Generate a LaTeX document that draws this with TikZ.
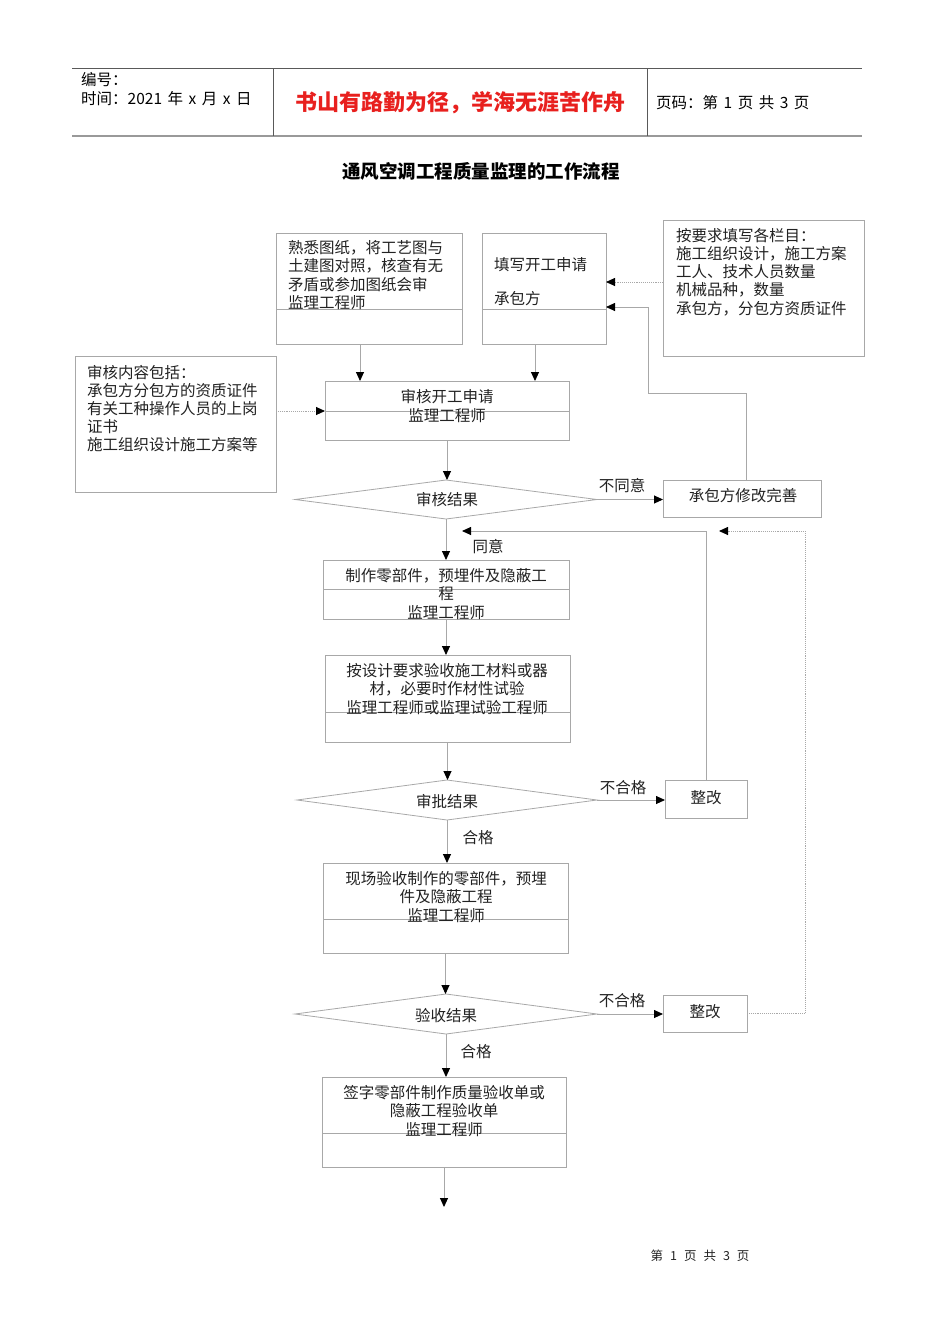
\documentclass[tikz,border=0pt]{standalone}
\usepackage{fontspec}
\setmainfont{Noto Sans CJK SC}
\usetikzlibrary{arrows.meta,shapes.geometric}
\definecolor{ln}{HTML}{A8A8A8}
\definecolor{tx}{HTML}{222222}
\definecolor{redt}{HTML}{E8201E}
\newcommand{\hs}{\hspace{5.5pt}}
\tikzset{
 box/.style={draw=ln, line width=0.8pt, rectangle, inner sep=0pt, outer sep=0pt},
 dia/.style={draw=ln, line width=0.8pt, diamond, inner sep=0pt, outer sep=0pt},
 conn/.style={draw=ln, line width=0.9pt},
 arr/.style={conn, -{Triangle[length=9pt,width=8pt,color=black]}},
 dotarr/.style={arr, densely dotted},
 txt/.style={inner sep=0pt, text=tx, font=\fontsize{15.5pt}{18.2pt}\selectfont},
 hdr/.style={inner sep=0pt, text=black, font=\fontsize{15.5pt}{19pt}\selectfont},
}
\begin{document}
\begin{tikzpicture}[x=1pt,y=-1pt]
\fill[white] (0,0) rectangle (950,1344);
\useasboundingbox (0,0) rectangle (950,1344);
% header
\draw[draw=gray!70!black, line width=0.8pt] (72,68) -- (862,68);
\draw[draw=gray!80, line width=2pt] (72,136) -- (862,136);
\draw[draw=gray!70!black, line width=0.8pt] (273,68) -- (273,136) (647,68) -- (647,136);
\node[hdr, anchor=west] (h1) at (81,80) {编号：};
\node[hdr, anchor=west] (h2) at (81,99) {时间：2021\hs 年\hs x\hs 月\hs x\hs 日};
\node[inner sep=0pt, text=redt, font=\fontsize{22pt}{24pt}\selectfont\bfseries] (h3) at (460,103) {书山有路勤为径，学海无涯苦作舟};
\node[hdr, anchor=west] (h4) at (656,103) {页码：第\hs 1\hs 页\hs 共\hs 3\hs 页};
% title
\node[inner sep=0pt, font=\fontsize{18.5pt}{20pt}\selectfont\bfseries] (title) at (481,171) {通风空调工程质量监理的工作流程};
% boxes
\node[box, minimum width=186pt, minimum height=111pt] (A) at (369,288.5) {};
\node[box, minimum width=124pt, minimum height=111pt] (B) at (544,288.5) {};
\node[box, minimum width=201pt, minimum height=136pt] (C) at (763.5,288) {};
\node[box, minimum width=244pt, minimum height=59pt] (D) at (447,410.5) {};
\node[box, minimum width=201pt, minimum height=136pt] (E) at (175.5,424) {};
\node[dia, minimum width=302pt, minimum height=39pt] (K1) at (446,499.5) {};
\node[box, minimum width=158pt, minimum height=37pt] (F) at (742,498.5) {};
\node[box, minimum width=246pt, minimum height=59pt] (G) at (446,589.5) {};
\node[box, minimum width=245pt, minimum height=87pt] (H) at (447.5,698.5) {};
\node[dia, minimum width=300pt, minimum height=40pt] (K2) at (447,800) {};
\node[box, minimum width=82pt, minimum height=38pt] (Z1) at (706,799) {};
\node[box, minimum width=245pt, minimum height=90pt] (I) at (445.5,908) {};
\node[dia, minimum width=302pt, minimum height=40pt] (K3) at (446,1014) {};
\node[box, minimum width=84pt, minimum height=37pt] (Z2) at (705,1013.5) {};
\node[box, minimum width=244pt, minimum height=90pt] (J) at (444,1122) {};
% inner divider lines
\draw[conn] (A.west |- 0,309) -- (A.east |- 0,309);
\draw[conn] (B.west |- 0,309) -- (B.east |- 0,309);
\draw[conn] (D.west |- 0,411) -- (D.east |- 0,411);
\draw[conn] (G.west |- 0,589) -- (G.east |- 0,589);
\draw[conn] (H.west |- 0,712) -- (H.east |- 0,712);
\draw[conn] (I.west |- 0,919) -- (I.east |- 0,919);
\draw[conn] (J.west |- 0,1133) -- (J.east |- 0,1133);
% texts
\node[txt, anchor=west, align=left] (tA) at (288,275) {熟悉图纸，将工艺图与\\土建图对照，核查有无\\矛盾或参加图纸会审\\监理工程师};
\node[txt, anchor=west] (tB1) at (494,265) {填写开工申请};
\node[txt, anchor=west] (tB2) at (494,299) {承包方};
\node[txt, anchor=west, align=left] (tC) at (676,272) {按要求填写各栏目：\\施工组织设计，施工方案\\工人、技术人员数量\\机械品种，数量\\承包方，分包方资质证件};
\node[txt, align=center] (tD) at (447,406) {审核开工申请\\监理工程师};
\node[txt, anchor=west, align=left] (tE) at (87,408.5) {审核内容包括：\\承包方分包方的资质证件\\有关工种操作人员的上岗\\证书\\施工组织设计施工方案等};
\node[txt] (tK1) at (447,500) {审核结果};
\node[txt] (tF) at (743,496) {承包方修改完善};
\node[txt, align=center] (tG) at (446,594) {制作零部件，预埋件及隐蔽工\\程\\监理工程师};
\node[txt, align=center] (tH) at (447,689) {按设计要求验收施工材料或器\\材，必要时作材性试验\\监理工程师或监理试验工程师};
\node[txt] (tK2) at (447,802) {审批结果};
\node[txt] (tZ1) at (706,798) {整改};
\node[txt, align=center] (tI) at (446,897) {现场验收制作的零部件，预埋\\件及隐蔽工程\\监理工程师};
\node[txt] (tK3) at (446,1016) {验收结果};
\node[txt] (tZ2) at (705,1012) {整改};
\node[txt, align=center] (tJ) at (444,1111) {签字零部件制作质量验收单或\\隐蔽工程验收单\\监理工程师};
% labels
\node[txt] (l1) at (622,486) {不同意};
\node[txt] (l2) at (488,547) {同意};
\node[txt] (l3) at (623,788) {不合格};
\node[txt] (l4) at (478,838) {合格};
\node[txt] (l5) at (622,1001) {不合格};
\node[txt] (l6) at (476,1052) {合格};
% free-end coordinates
\coordinate (r1) at (462,531);
\coordinate (r2) at (719,531);
\coordinate (endp) at (445,1207);
% connectors
\draw[arr] (A.south -| 360,0) -- (D.north -| 360,0);
\draw[arr] (B.south -| 535,0) -- (D.north -| 535,0);
\draw[dotarr] (C.west |- 0,282) -- (B.east |- 0,282);
\draw[arr] (F.north -| 746,0) |- (648,393) |- (B.east |- 0,307);
\draw[dotarr] (E.east |- 0,411) -- (D.west |- 0,411);
\draw[arr] (D.south) -- (D.south |- K1.north);
\draw[arr] (K1.east) -- (K1.east -| F.west);
\draw[arr] (K1.south) -- (K1.south |- G.north);
\draw[arr] (Z1.north) |- (r1);
\draw[dotarr] (Z2.east) -| (805,531) -- (r2);
\draw[arr] (G.south) -- (G.south |- H.north);
\draw[arr] (H.south) -- (H.south |- K2.north);
\draw[arr] (K2.east) -- (K2.east -| Z1.west);
\draw[arr] (K2.south) -- (K2.south |- I.north);
\draw[arr] (I.south) -- (I.south |- K3.north);
\draw[arr] (K3.east) -- (K3.east -| Z2.west);
\draw[arr] (K3.south) -- (K3.south |- J.north);
\draw[arr] (J.south) -- (J.south |- endp);
% footer
\node[inner sep=0pt, text=tx, font=\fontsize{12.5pt}{15pt}\selectfont] (foot) at (700,1256) {第\hspace{7pt}1\hspace{7pt}页\hspace{7pt}共\hspace{7pt}3\hspace{7pt}页};
\end{tikzpicture}
\end{document}
